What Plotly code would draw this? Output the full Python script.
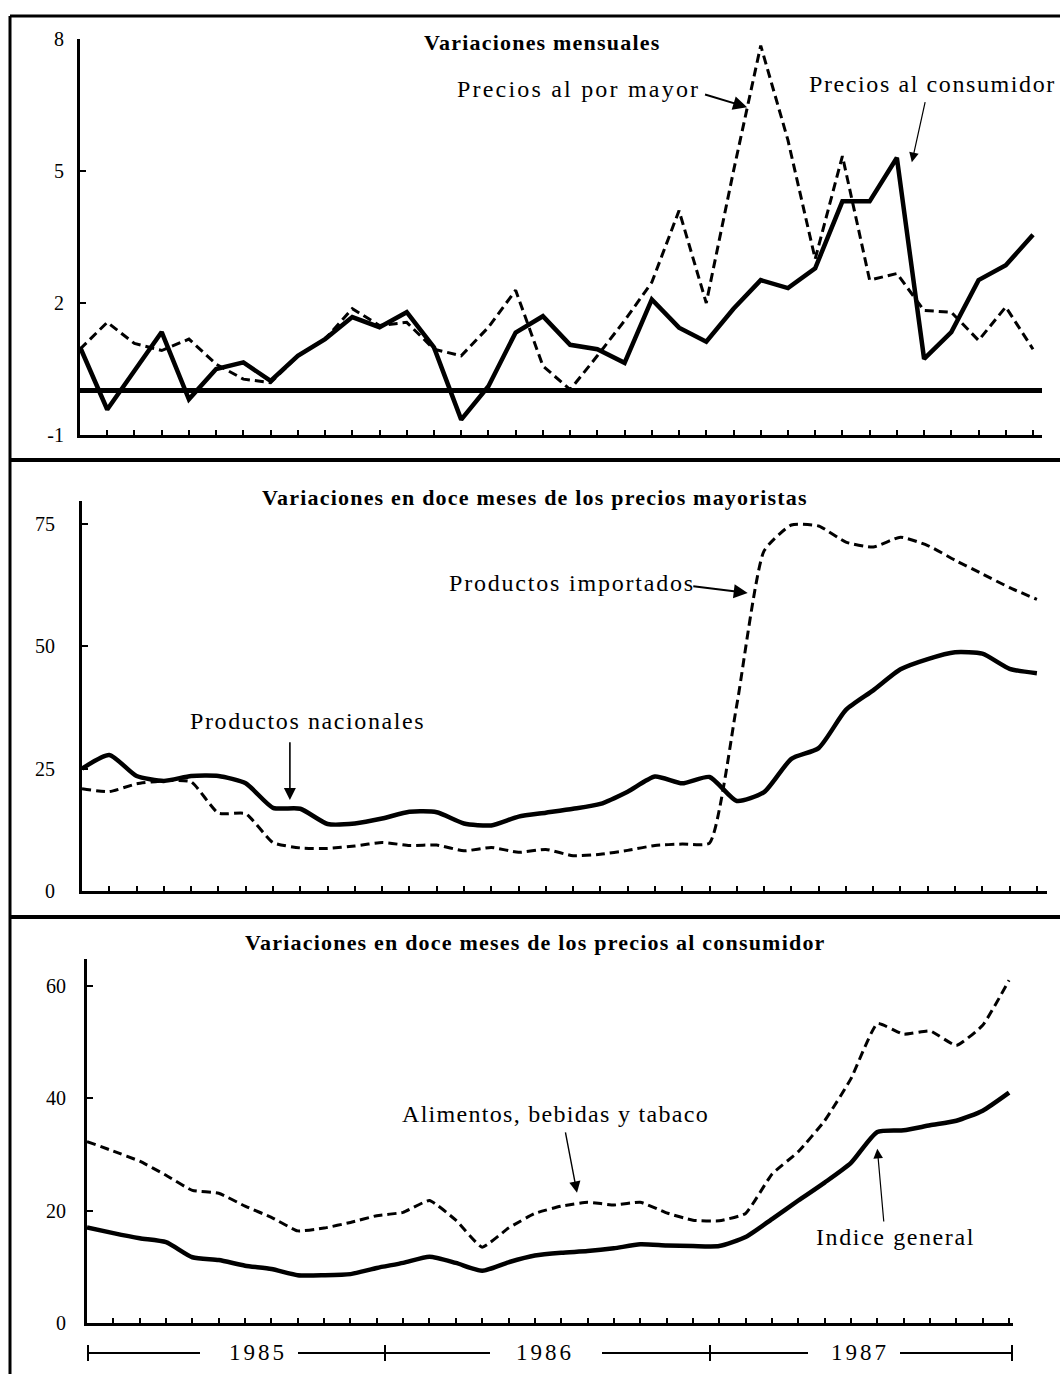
import plotly.graph_objects as go

W, H = 1060, 1374

# ---------------- data (months Jan-1985 .. Dec-1987) ----------------
months = list(range(36))

# Panel 1: Variaciones mensuales (%)
precios_consumidor = [1.0, -0.42, 0.46, 1.34, -0.19, 0.5, 0.65, 0.23, 0.8, 1.18, 1.68, 1.45,
                      1.79, 0.99, -0.65, 0.11, 1.33, 1.7, 1.05, 0.95, 0.64, 2.08, 1.44, 1.12,
                      1.87, 2.52, 2.34, 2.79, 4.31, 4.31, 5.3, 0.73, 1.34, 2.52, 2.86, 3.55]
precios_mayor = [0.95, 1.56, 1.08, 0.92, 1.18, 0.61, 0.27, 0.19, 0.8, 1.18, 1.87, 1.49,
                 1.56, 0.95, 0.8, 1.45, 2.29, 0.57, 0.03, 0.8, 1.6, 2.47, 4.1, 2.0,
                 5.0, 7.85, 5.7, 3.0, 5.34, 2.52, 2.67, 1.83, 1.79, 1.15, 1.91, 0.95]

# Panel 2: Variaciones en doce meses de los precios mayoristas (%)
productos_nacionales = [25.0, 27.8, 23.5, 22.5, 23.5, 23.5, 22.0, 17.0, 16.8, 13.7, 13.8, 14.8,
                        16.2, 16.1, 13.8, 13.4, 15.2, 16.0, 16.8, 17.8, 20.3, 23.4, 22.0, 23.3,
                        18.4, 20.2, 27.0, 29.2, 37.0, 41.0, 45.3, 47.4, 48.8, 48.5, 45.4, 44.5]
productos_importados = [20.9, 20.3, 21.9, 22.5, 22.3, 15.9, 15.8, 9.9, 8.8, 8.7, 9.2, 9.9,
                        9.3, 9.4, 8.2, 8.9, 7.9, 8.5, 7.2, 7.5, 8.3, 9.3, 9.6, 9.8,
                        38.0, 69.5, 74.8, 74.6, 71.3, 70.3, 72.3, 70.6, 67.6, 64.8, 62.0, 59.6]

# Panel 3: Variaciones en doce meses de los precios al consumidor (%)
indice_general = [17.0, 16.0, 15.1, 14.4, 11.7, 11.2, 10.2, 9.6, 8.5, 8.5, 8.7, 9.8,
                  10.7, 11.8, 10.7, 9.3, 10.8, 12.0, 12.5, 12.8, 13.3, 14.0, 13.8, 13.7,
                  13.7, 15.3, 18.5, 21.8, 25.0, 28.5, 34.0, 34.3, 35.2, 36.0, 37.8, 41.0]
alimentos = [32.3, 30.6, 28.8, 26.3, 23.6, 23.1, 20.8, 18.8, 16.4, 16.9, 17.9, 19.1,
             19.7, 21.8, 18.3, 13.5, 16.9, 19.5, 20.8, 21.5, 21.0, 21.5, 19.6, 18.3,
             18.2, 19.5, 26.5, 30.5, 36.0, 43.5, 53.3, 51.4, 52.0, 49.4, 53.0, 61.0]

p1_ticks = [-1, 2, 5, 8]
p1_ticktext = ["-1", "2", "5", "8"]
p2_ticks = [0, 25, 50, 75]
p3_ticks = [0, 20, 40, 60]
years = ["1985", "1986", "1987"]

# ---------------- helpers (reference pixel -> paper) ----------------
def px(x):
    return x / W

def py(y):
    ys = (y - 10) / 0.984
    return 1 - ys / H

SERIF = "Liberation Serif, Times New Roman, serif"
BLACK = "#000000"
SOLID = dict(color=BLACK, width=4.5)
DASHED = dict(color=BLACK, width=3, dash="9px,5px")

fig = go.Figure()

# Panel 1
fig.add_trace(go.Scatter(x=months, y=precios_mayor, mode="lines", line=DASHED,
                         xaxis="x", yaxis="y", showlegend=False))
fig.add_trace(go.Scatter(x=months, y=precios_consumidor, mode="lines", line=SOLID,
                         xaxis="x", yaxis="y", showlegend=False))
# Panel 2
fig.add_trace(go.Scatter(x=months, y=productos_importados, mode="lines",
                         line=dict(DASHED, shape="spline", smoothing=0.5),
                         xaxis="x2", yaxis="y2", showlegend=False))
fig.add_trace(go.Scatter(x=months, y=productos_nacionales, mode="lines",
                         line=dict(SOLID, shape="spline", smoothing=0.6),
                         xaxis="x2", yaxis="y2", showlegend=False))
# Panel 3
fig.add_trace(go.Scatter(x=months, y=alimentos, mode="lines",
                         line=dict(DASHED, shape="spline", smoothing=0.4),
                         xaxis="x3", yaxis="y3", showlegend=False))
fig.add_trace(go.Scatter(x=months, y=indice_general, mode="lines",
                         line=dict(SOLID, shape="spline", smoothing=0.6),
                         xaxis="x3", yaxis="y3", showlegend=False))

xcommon = dict(showline=True, linecolor=BLACK, linewidth=3, ticks="inside",
               tickvals=list(range(1, 36)), ticklen=5, tickwidth=2, tickcolor=BLACK,
               showticklabels=False, showgrid=False, zeroline=False, fixedrange=True)
ycommon = dict(showline=True, linecolor=BLACK, linewidth=3, ticks="inside",
               ticklen=6, tickwidth=2, tickcolor=BLACK, showgrid=False, fixedrange=True,
               tickfont=dict(family=SERIF, size=20, color=BLACK))

fig.update_layout(
    width=W, height=H, margin=dict(l=0, r=0, t=0, b=0),
    paper_bgcolor="white", plot_bgcolor="rgba(0,0,0,0)",
    showlegend=False,
    xaxis=dict(xcommon, domain=[px(80), px(1042)], range=[0, 35.33], anchor="y"),
    yaxis=dict(ycommon, domain=[py(434), py(38)], range=[-1, 8], tickvals=p1_ticks,
               ticktext=p1_ticktext, ticklabelstandoff=9,
               zeroline=True, zerolinewidth=5, zerolinecolor=BLACK, anchor="x"),
    xaxis2=dict(xcommon, domain=[px(82), px(1047)], range=[0, 35.37], anchor="y2"),
    yaxis2=dict(ycommon, domain=[py(890), py(500)], range=[0, 79.7], tickvals=p2_ticks,
                ticklabelstandoff=20, zeroline=False, anchor="x2"),
    xaxis3=dict(xcommon, domain=[px(87), px(1013)], range=[0, 35.15], anchor="y3"),
    yaxis3=dict(ycommon, domain=[py(1322), py(958)], range=[0, 64.8], tickvals=p3_ticks,
                ticklabelstandoff=14, zeroline=False, anchor="x3"),
)

shapes = []
def pline(x0, y0, x1, y1, w=3):
    shapes.append(dict(type="line", xref="paper", yref="paper",
                       x0=px(x0), y0=py(y0), x1=px(x1), y1=py(y1),
                       line=dict(color=BLACK, width=w)))

# outer frame and separators
pline(10, 15, 1060, 15, 3)
pline(10, 15, 10, 1390, 3)
pline(10, 459, 1060, 459, 4)
pline(10, 916, 1060, 916, 4)

# year bracket under panel 3
YB = 1352
for a, b in [(88, 200), (298, 490), (602, 808), (900, 1012)]:
    pline(a, YB, b, YB, 2)
for xt in [88, 385, 710, 1012]:
    pline(xt, YB - 8, xt, YB + 8, 2)
fig.update_layout(shapes=shapes)

ann = []
def ptext(text, x, y, size=20, bold=False, spacing=0.0):
    t = f"<b>{text}</b>" if bold else text
    if spacing:
        t = f'<span style="letter-spacing:{spacing}px">{t}</span>'
    ann.append(dict(text=t, xref="paper", yref="paper",
                    x=px(x), y=py(y), xanchor="center", yanchor="middle", showarrow=False,
                    font=dict(family=SERIF, size=size, color=BLACK)))

def arrow(axis_n, x_tip, y_tip, x_tail, y_tail, width=1.5, size=1.2):
    xr = "x" if axis_n == 1 else f"x{axis_n}"
    yr = "y" if axis_n == 1 else f"y{axis_n}"
    ann.append(dict(text="", xref=xr, yref=yr, axref=xr, ayref=yr,
                    x=x_tip, y=y_tip, ax=x_tail, ay=y_tail, showarrow=True,
                    arrowhead=2, arrowsize=size, arrowwidth=width, arrowcolor=BLACK))

# Titles
ptext("Variaciones mensuales", 542, 42, 22, True, 1.2)
ptext("Variaciones en doce meses de los precios mayoristas", 535, 497, 22, True, 1.2)
ptext("Variaciones en doce meses de los precios al consumidor", 535, 942, 22, True, 1.2)

# Series labels
ptext("Precios al por mayor", 578, 88, 24, False, 2.2)
ptext("Precios al consumidor", 932, 83, 24, False, 1.6)
ptext("Productos importados", 572, 582, 24, False, 1.8)
ptext("Productos nacionales", 307, 720, 24, False, 1.6)
ptext("Alimentos, bebidas y tabaco", 555, 1113, 24, False, 1.3)
ptext("Indice general", 895, 1236, 24, False, 1.6)

# Year labels
for label, xc in zip(years, [258, 545, 860]):
    ptext(label, xc, YB, 23, False, 3)

# Arrows (data coordinates of each panel)
arrow(1, 24.5, 6.45, 22.9, 6.75, 2, 1.4)
arrow(1, 30.55, 5.2, 31.05, 6.6, 1.2, 1.6)
arrow(2, 24.4, 60.9, 22.35, 62.3, 2, 1.4)
arrow(2, 7.62, 18.6, 7.62, 30.7, 1.6, 1.5)
arrow(3, 18.6, 23.2, 18.15, 34.2, 1.4, 1.6)
arrow(3, 30.0, 31.0, 30.25, 17.8, 1.2, 1.6)

fig.update_layout(annotations=ann)

fig.write_html("out.html", config={"displayModeBar": False},
               post_script="document.body.style.margin='0';")
